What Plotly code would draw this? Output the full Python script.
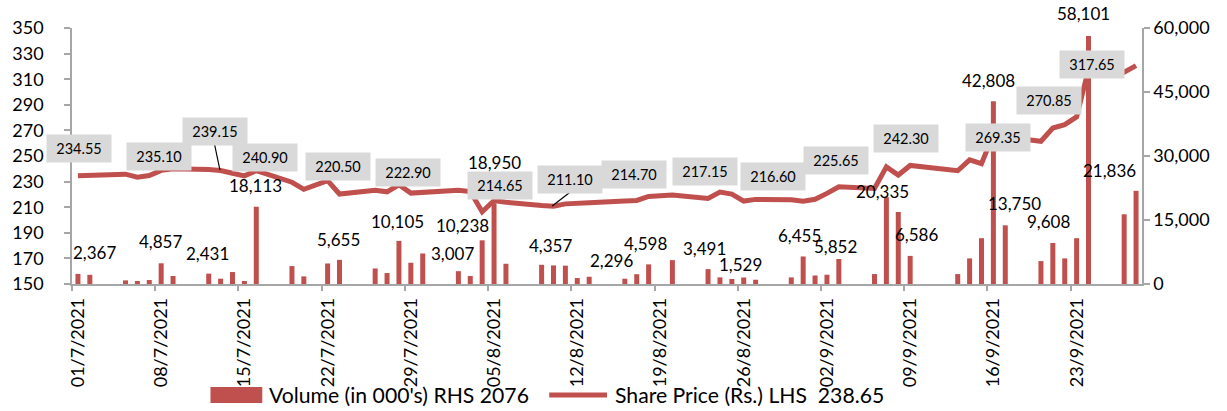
import pandas as pd
import plotly.graph_objects as go

# ---------------- data ----------------
trade_dates = [
    "2021-07-01", "2021-07-02", "2021-07-05", "2021-07-06", "2021-07-07", "2021-07-08", "2021-07-09",
    "2021-07-12", "2021-07-13", "2021-07-14", "2021-07-15", "2021-07-16",
    "2021-07-19", "2021-07-20", "2021-07-22", "2021-07-23",
    "2021-07-26", "2021-07-27", "2021-07-28", "2021-07-29", "2021-07-30",
    "2021-08-02", "2021-08-03", "2021-08-04", "2021-08-05", "2021-08-06",
    "2021-08-09", "2021-08-10", "2021-08-11", "2021-08-12", "2021-08-13",
    "2021-08-16", "2021-08-17", "2021-08-18", "2021-08-20",
    "2021-08-23", "2021-08-24", "2021-08-25", "2021-08-26", "2021-08-27",
    "2021-08-30", "2021-08-31", "2021-09-01", "2021-09-02", "2021-09-03",
    "2021-09-06", "2021-09-07", "2021-09-08", "2021-09-09",
    "2021-09-13", "2021-09-14", "2021-09-15", "2021-09-16", "2021-09-17",
    "2021-09-20", "2021-09-21", "2021-09-22", "2021-09-23", "2021-09-24",
    "2021-09-27", "2021-09-28",
]
volume = [
    2367, 2150, 850, 700, 930, 4857, 1870,
    2431, 1250, 2800, 700, 18113,
    4200, 1780, 4810, 5655,
    3640, 2570, 10105, 4980, 7150,
    3007, 1870, 10238, 18950, 4740,
    4500, 4357, 4300, 1400, 1700,
    1240, 2296, 4598, 5600,
    3491, 1550, 1170, 1529, 1000,
    1550, 6455, 2000, 2170, 5852,
    2330, 20335, 16880, 6586,
    2330, 6000, 10740, 42808, 13750,
    5370, 9608, 6000, 10740, 58101,
    16340, 21836,
]
price = [
    234.55, 234.7, 235.8, 233.5, 234.7, 238.8, 240.0,
    239.4, 238.6, 236.5, 234.5, 238.6,
    229.5, 224.0, 230.7, 220.3,
    223.3, 222.0, 227.5, 221.0, 221.5,
    223.2, 222.2, 206.4, 215.2, 213.9,
    211.3, 210.8, 212.6, 213.3, 213.5,
    214.8, 215.3, 218.4, 219.5,
    216.9, 221.8, 220.2, 214.8, 216.1,
    215.9, 214.6, 216.2, 220.8, 226.0,
    224.7, 241.5, 235.1, 242.6,
    238.5, 247.0, 244.0, 267.0, 265.0,
    261.5, 271.9, 274.5, 280.5, 317.65,
    315.5, 320.6,
]
tick_dates = ["2021-07-01", "2021-07-08", "2021-07-15", "2021-07-22", "2021-07-29",
              "2021-08-05", "2021-08-12", "2021-08-19", "2021-08-26", "2021-09-02",
              "2021-09-09", "2021-09-16", "2021-09-23"]
tick_labels = ["01/7/2021", "08/7/2021", "15/7/2021", "22/7/2021", "29/7/2021",
               "05/8/2021", "12/8/2021", "19/8/2021", "26/8/2021", "02/9/2021",
               "09/9/2021", "16/9/2021", "23/9/2021"]
price_label_text = ["234.55", "235.10", "239.15", "240.90", "220.50", "222.90", "214.65", "211.10",
                    "214.70", "217.15", "216.60", "225.65", "242.30", "269.35", "270.85", "317.65"]
volume_label_dates = ["2021-07-01", "2021-07-08", "2021-07-12", "2021-07-16", "2021-07-23", "2021-07-28",
                      "2021-08-02", "2021-08-04", "2021-08-05", "2021-08-10", "2021-08-17", "2021-08-18",
                      "2021-08-23", "2021-08-26", "2021-08-31", "2021-09-03", "2021-09-07", "2021-09-09",
                      "2021-09-16", "2021-09-17", "2021-09-21", "2021-09-24", "2021-09-28"]
series_names = ["Volume (in 000's) RHS 2076", "Share Price (Rs.) LHS\u00a0\u00a0238.65"]

# ---------------- layout helpers (pixel placement of labels) ----------------
PX0, PX1, PY0, PY1 = 68, 1142, 28, 284
W, H = 1227, 411
RED = "#c0504d"
AXIS = "#a6a6a6"
FONT = "Lato"


def px(x):
    return (x - PX0) / (PX1 - PX0)


def py(y):
    return (PY1 - y) / (PY1 - PY0)


price_label_pos = [(75, 148), (155, 156), (212, 131), (262, 157), (335, 166), (405, 172),
                   (498, 185), (568, 179), (632, 174), (703, 171), (772, 176), (835, 160),
                   (905, 138), (997, 137), (1049, 100), (1092, 64)]
volume_label_pos = [(91, 252), (157, 241), (204, 253), (252, 185), (335, 239), (395, 221),
                    (450, 253), (460, 225), (492, 162), (548, 245), (610, 260), (644, 243),
                    (703, 248), (739, 264), (798, 235), (834, 246), (882, 191), (916, 234),
                    (988, 80), (1014, 203), (1048, 221), (1083, 13), (1109, 170)]
leader_lines = [((211, 144), (216.5, 170)), ((567.5, 192.5), (550, 206))]

# ---------------- figure ----------------
x_mid = pd.to_datetime(trade_dates) + pd.Timedelta(hours=12)
vol_by_date = dict(zip(trade_dates, volume))

fig = go.Figure()
fig.add_trace(go.Scatter(
    x=x_mid, y=price, mode="lines", name=series_names[1],
    line=dict(color=RED, width=5), yaxis="y",
))
fig.add_trace(go.Bar(
    x=x_mid, y=volume, name=series_names[0], marker=dict(color=RED, line=dict(width=0)),
    width=0.42 * 86400000, yaxis="y2",
))

annotations = []
for txt, (cx, cy) in zip(price_label_text, price_label_pos):
    annotations.append(dict(
        x=px(cx), y=py(cy), xref="paper", yref="paper", text=txt, showarrow=False,
        font=dict(family=FONT, size=14.5, color="#000000"), bgcolor="#d9d9d9",
        width=62, height=25, borderpad=1, xanchor="center", yanchor="middle",
    ))
for d, (cx, cy) in zip(volume_label_dates, volume_label_pos):
    annotations.append(dict(
        x=px(cx), y=py(cy), xref="paper", yref="paper", text=f"{vol_by_date[d]:,}",
        showarrow=False, font=dict(family=FONT, size=17, color="#000000"),
        xanchor="center", yanchor="middle",
    ))

shapes = []
for (a, b) in leader_lines:
    shapes.append(dict(type="line", xref="paper", yref="paper", x0=px(a[0]), y0=py(a[1]),
                       x1=px(b[0]), y1=py(b[1]), line=dict(color="#000000", width=1.2)))

# custom legend
shapes.append(dict(type="rect", xref="paper", yref="paper", x0=px(207), x1=px(259),
                   y0=py(403), y1=py(387), fillcolor=RED, line=dict(width=0)))
shapes.append(dict(type="line", xref="paper", yref="paper", x0=px(547), x1=px(605),
                   y0=py(395), y1=py(395), line=dict(color=RED, width=5)))
annotations.append(dict(x=px(264), y=py(395), xref="paper", yref="paper", text=series_names[0],
                        showarrow=False, xanchor="left", yanchor="middle",
                        font=dict(family=FONT, size=21.2, color="#000000")))
annotations.append(dict(x=px(611), y=py(395), xref="paper", yref="paper", text=series_names[1],
                        showarrow=False, xanchor="left", yanchor="middle",
                        font=dict(family=FONT, size=21.2, color="#000000")))

fig.update_layout(
    width=W, height=H,
    margin=dict(l=PX0, r=W - PX1, t=PY0, b=H - PY1),
    paper_bgcolor="white", plot_bgcolor="white",
    showlegend=False,
    font=dict(family=FONT, size=18, color="#000000"),
    xaxis=dict(
        type="date", range=["2021-07-01", "2021-09-29"],
        tickmode="array", tickvals=tick_dates, ticktext=tick_labels,
        tickangle=-90, ticks="outside", ticklen=5, tickcolor=AXIS, tickwidth=1.5,
        showline=True, linecolor=AXIS, linewidth=1.5, showgrid=False, zeroline=False,
        ticklabelshift=6, tickfont=dict(family=FONT, size=18),
    ),
    yaxis=dict(
        range=[150, 350], tick0=150, dtick=20, ticks="outside", ticklen=6, tickcolor=AXIS,
        tickwidth=1.5, showline=True, linecolor=AXIS, linewidth=1.5, showgrid=False,
        zeroline=False, ticklabelstandoff=17, tickfont=dict(family=FONT, size=18),
    ),
    yaxis2=dict(
        range=[0, 60000], tick0=0, dtick=15000, tickformat=",", overlaying="y", side="right",
        ticks="outside", ticklen=6, tickcolor=AXIS, tickwidth=1.5, showline=True,
        linecolor=AXIS, linewidth=1.5, showgrid=False, zeroline=False,
        tickfont=dict(family=FONT, size=18),
    ),
    annotations=annotations,
    shapes=shapes,
)

fig.write_html("out.html", config={"displayModeBar": False},
               post_script="document.body.style.margin='0px';")
